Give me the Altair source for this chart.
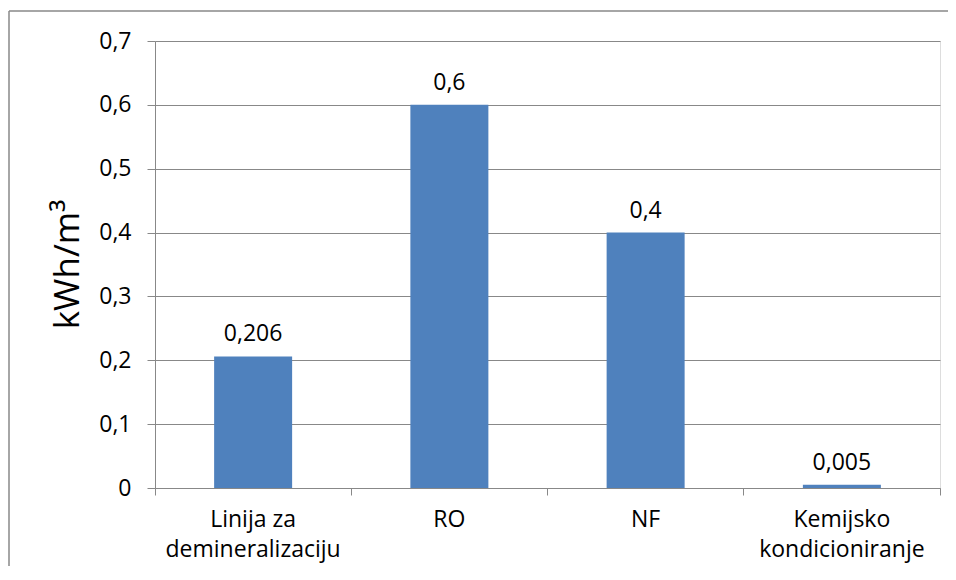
import altair as alt
import pandas as pd

categories = ["Linija za\ndemineralizaciju", "RO", "NF", "Kemijsko\nkondicioniranje"]
values = [0.206, 0.6, 0.4, 0.005]
value_labels = ["0,206", "0,6", "0,4", "0,005"]
y_ticks = [0, 0.1, 0.2, 0.3, 0.4, 0.5, 0.6, 0.7]

df = pd.DataFrame({"cat": categories, "val": values, "lab": value_labels})

FONT = "Open Sans"
GRAY = "#888888"

x_enc = alt.X(
    "cat:N",
    sort=categories,
    title=None,
    scale=alt.Scale(paddingInner=0, paddingOuter=0),
    axis=alt.Axis(
        labelAngle=0,
        labelFont=FONT,
        labelFontSize=23,
        labelColor="black",
        labelExpr="split(datum.label, '\\n')",
        labelLineHeight=30,
        labelPadding=13,
        labelBaseline="top",
        tickSize=7,
        tickColor=GRAY,
        domainColor=GRAY,
        bandPosition=1,
        tickExtra=True,
        grid=False,
    ),
)

y_enc = alt.Y(
    "val:Q",
    scale=alt.Scale(domain=[0, 0.7], nice=False),
    axis=alt.Axis(
        values=y_ticks,
        title="kWh/m³",
        titleFont=FONT,
        titleFontSize=35,
        titleFontWeight="normal",
        titleColor="black",
        titleAngle=270,
        titleX=-88,
        titleY=223,
        titleAlign="center",
        titleBaseline="middle",
        labelExpr="datum.value == 0 ? '0' : replace(format(datum.value, '.1f'), '.', ',')",
        labelFont=FONT,
        labelFontSize=23,
        labelColor="black",
        labelPadding=16,
        tickSize=8,
        tickColor=GRAY,
        domainColor=GRAY,
        gridColor=GRAY,
        grid=True,
    ),
)

bars = alt.Chart(df).mark_bar(color="#4F81BD", size=78).encode(x=x_enc, y=y_enc)

texts = alt.Chart(df).mark_text(
    baseline="bottom", dy=-10, font=FONT, fontSize=23, color="black"
).encode(x=alt.X("cat:N", sort=categories), y="val:Q", text="lab:N")

one = alt.Data(values=[{"a": 1}])
border_left = alt.Chart(one).mark_rule(color=GRAY, strokeWidth=1.5).encode(
    x=alt.value(-146), y=alt.value(-30), y2=alt.value(620)
)
border_top = alt.Chart(one).mark_rule(color=GRAY, strokeWidth=1.5).encode(
    x=alt.value(-146), x2=alt.value(900), y=alt.value(-30)
)

chart = alt.layer(bars, texts, border_left, border_top).properties(
    width=785,
    height=447,
    autosize=alt.AutoSizeParams(type="none"),
    padding={"left": 147, "top": 33, "right": 8, "bottom": 78},
).configure_view(stroke=None).configure(background="white")

chart.save("out.html", embed_options={"renderer": "svg", "actions": False})
